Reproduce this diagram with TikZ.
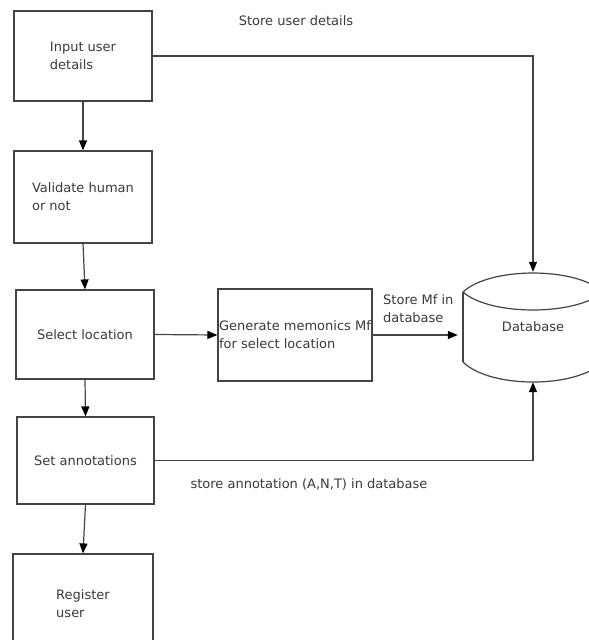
\documentclass[tikz,border=0pt]{standalone}
\usepackage{fontspec}
\setmainfont{DejaVu Sans}
\usetikzlibrary{arrows.meta,positioning}
\definecolor{FlowLine}{HTML}{444444}
\definecolor{FlowText}{HTML}{3A3A3A}

\begin{document}
\begin{tikzpicture}[x=1pt,y=-1pt,font=\fontsize{13}{18}\selectfont,
    stepbox/.style={draw=FlowLine,line width=1.2pt,align=left,text=FlowText,inner sep=0pt},
    flow/.style={draw=FlowLine,line width=1.2pt,-{Triangle[length=10pt,width=8pt,black]}},
    lbl/.style={text=FlowText,align=left,inner sep=0pt},
    dbline/.style={draw=FlowLine,line width=1.2pt}]
        \useasboundingbox[fill=white] (0,0) rectangle (589,640);

        \node[stepbox,minimum width=138,minimum height=90] (input) at (83,56) {Input user\\details};
        \node[stepbox,minimum width=138,minimum height=92] (validate) at (83,197) {Validate human\\or not};
        \node[stepbox,minimum width=138,minimum height=89] (select) at (85,334.5) {Select location};
        \node[stepbox,minimum width=154,minimum height=92] (gen) at (295,335) {Generate memonics Mf\\for select location};
        \node[stepbox,minimum width=137,minimum height=87] (annot) at (85.5,460.5) {Set annotations};
        \node[stepbox,minimum width=140,minimum height=100] (register) at (83,604) {Register\\user};

        \node[lbl,minimum width=140,minimum height=110] (db) at (533,327) {Database};
        \draw[dbline] (463,292) .. controls (490,266.7) and (576,266.7) .. (603,292);
        \draw[dbline] (463,292) .. controls (490,316) and (576,316) .. (603,292);
        \draw[dbline] (463,292) -- (463,362);
        \draw[dbline] (463,362) .. controls (490,388.7) and (576,388.7) .. (603,362);

        \node[lbl] (storeuser) at (296,21) {Store user details};
        \node[lbl,anchor=west] (storemf) at (383,309) {Store Mf in\\database};
        \node[lbl] (storeannot) at (309,484) {store annotation (A,N,T) in database};

        \draw[flow] (input.east) -| (db.north);
        \draw[flow] (input.south) -- (validate.north);
        \draw[flow] (validate.south) -- (select.north);
        \draw[flow] (select.east) -- (gen.west);
        \draw[flow,shorten >=5pt] (gen.east) -- (gen.east -| db.west);
        \draw[flow] (select.south) -- (annot.north);
        \draw[flow] (annot.east) -| (db.south);
        \draw[flow] (annot.south) -- (register.north);
      \end{tikzpicture}
\end{document}
